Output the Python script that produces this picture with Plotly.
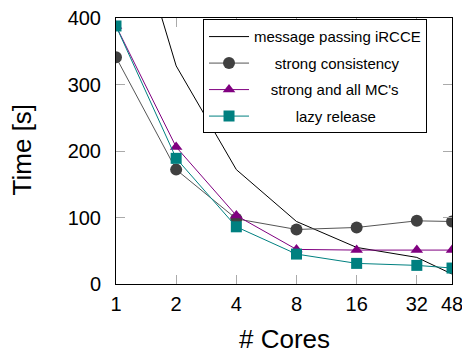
import plotly.graph_objects as go

cores = [1, 2, 4, 8, 16, 32, 48]
msg_passing = [630, 328, 172, 94, 55, 40, 15]
strong_consistency = [341, 172, 98, 82, 85, 95, 94]
strong_all_mc = [388, 206, 103, 52, 51, 51, 51]
lazy_release = [388, 189, 86, 45, 31, 28, 24]

x_ticks = [1, 2, 4, 8, 16, 32, 48]
y_ticks = [0, 100, 200, 300, 400]

FONT = "Liberation Sans"
NB = "\u00a0"

fig = go.Figure()
fig.add_trace(go.Scatter(x=cores, y=msg_passing, mode="lines",
                         line=dict(color="black", width=1),
                         name="message passing iRCCE", legendgroup="a"))
fig.add_trace(go.Scatter(x=cores, y=strong_consistency, mode="lines+markers",
                         line=dict(color="#555555", width=1),
                         marker=dict(symbol="circle", size=12, color="#404040"),
                         name=NB * 5 + "strong consistency", legendgroup="b"))
fig.add_trace(go.Scatter(x=cores, y=strong_all_mc, mode="lines+markers",
                         line=dict(color="#800080", width=1),
                         marker=dict(symbol="triangle-up", size=11, color="#800080"),
                         name=NB * 4 + "strong and all MC's", legendgroup="c"))
fig.add_trace(go.Scatter(x=cores, y=lazy_release, mode="lines+markers",
                         line=dict(color="#008080", width=1),
                         marker=dict(symbol="square", size=11, color="#008080"),
                         name=NB * 10 + "lazy release", legendgroup="d"))

fig.update_layout(
    width=470, height=358,
    margin=dict(l=108, r=26, t=10, b=82),
    paper_bgcolor="white", plot_bgcolor="white",
    font=dict(family=FONT, color="black"),
    showlegend=True,
    legend=dict(x=0.259, y=0.995, xanchor="left", yanchor="top",
                bordercolor="black", borderwidth=1, bgcolor="white",
                font=dict(size=15, family=FONT), tracegroupgap=4,
                itemwidth=40),
    annotations=[
        dict(text="Time [s]", xref="paper", yref="paper", x=-0.2798, y=0.506,
             xanchor="center", yanchor="middle", textangle=-90, showarrow=False,
             font=dict(size=26, family=FONT)),
        dict(text="# Cores", xref="paper", yref="paper", x=0.5, y=-0.206,
             xanchor="center", yanchor="middle", showarrow=False,
             font=dict(size=26, family=FONT)),
    ],
)
fig.update_xaxes(type="log", range=[0, 1.6812], tickvals=x_ticks,
                 ticktext=[str(v) for v in x_ticks], automargin=False,
                 showgrid=False, zeroline=False, ticklabeloverflow="allow",
                 showline=True, linecolor="black", linewidth=1, mirror="allticks",
                 ticks="inside", ticklen=9, tickcolor="#aaaaaa", tickwidth=1,
                 tickfont=dict(size=20, family=FONT), ticklabelstandoff=2)
fig.update_yaxes(range=[0, 400], tickvals=y_ticks, automargin=False,
                 showgrid=False, zeroline=False, ticklabeloverflow="allow",
                 showline=True, linecolor="black", linewidth=1, mirror="allticks",
                 ticks="inside", ticklen=9, tickcolor="#aaaaaa", tickwidth=1,
                 tickfont=dict(size=20, family=FONT), ticklabelstandoff=10)

fig.write_html("out.html")
